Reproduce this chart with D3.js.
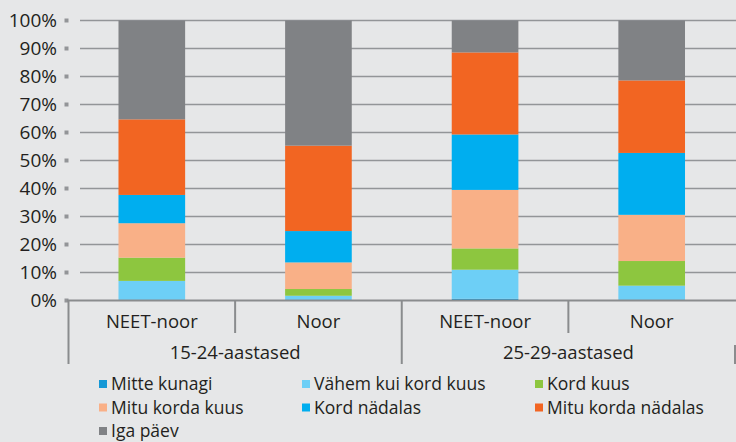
<!DOCTYPE html>
<html>
<head>
<meta charset="utf-8">
<script src="https://cdn.jsdelivr.net/npm/d3@7"></script>
<style>
  html, body { margin: 0; padding: 0; background: #e6e7e8; }
  svg { display: block; font-family: "Open Sans", "Noto Sans", sans-serif; }
</style>
</head>
<body>
<svg id="chart" width="736" height="442"></svg>
<script>
// ---- data ----
const bars = ["NEET-noor|15-24", "Noor|15-24", "NEET-noor|25-29", "Noor|25-29"];
const barLabels = ["NEET-noor", "Noor", "NEET-noor", "Noor"];
const groups = ["15-24-aastased", "25-29-aastased"];
const seriesNames = ["Mitte kunagi", "Vähem kui kord kuus", "Kord kuus", "Mitu korda kuus", "Kord nädalas", "Mitu korda nädalas", "Iga päev"];
const mitteKunagi      = [0.0, 0.0, 0.6, 0.0];
const vahemKuiKordKuus = [7.0, 1.7, 10.4, 5.3];
const kordKuus         = [8.3, 2.4, 7.6, 8.8];
const mituKordaKuus    = [12.3, 9.5, 20.9, 16.5];
const kordNadalas      = [10.1, 11.2, 19.8, 22.1];
const mituKordaNadalas = [27.0, 30.5, 29.3, 25.9];
const igaPaev          = [35.3, 44.7, 11.4, 21.4];
const yTicks = [0, 10, 20, 30, 40, 50, 60, 70, 80, 90, 100];

const colors = ["#1598d6", "#6dcff6", "#8dc63f", "#f9b087", "#00aeef", "#f26522", "#808285"];
const seriesValues = [mitteKunagi, vahemKuiKordKuus, kordKuus, mituKordaKuus, kordNadalas, mituKordaNadalas, igaPaev];

const table = bars.map((b, i) => {
  const row = { bar: b };
  seriesNames.forEach((s, j) => row[s] = seriesValues[j][i]);
  return row;
});

const svg = d3.select("#chart");
const textColor = "#231f20";
const fontSize = 18.5;

const x = d3.scaleBand().domain(bars).range([68.5, 735]).padding(0);
const y = d3.scaleLinear().domain([0, 100]).range([300.5, 20.5]);

// gridlines
svg.append("g").selectAll("line").data(yTicks.filter(t => t > 0)).join("line")
  .attr("x1", 80).attr("x2", 736)
  .attr("y1", d => y(d)).attr("y2", d => y(d))
  .attr("stroke", "#939598").attr("stroke-width", 1.3);

// y tick squares & labels
const yg = svg.append("g");
yg.selectAll("rect").data(yTicks).join("rect")
  .attr("x", 64.5).attr("y", d => y(d) - 2).attr("width", 4).attr("height", 4)
  .attr("fill", "#939598");
yg.selectAll("text").data(yTicks).join("text")
  .attr("x", 57).attr("y", d => y(d)).attr("dy", "0.35em")
  .attr("text-anchor", "end").attr("font-size", 19).attr("fill", textColor)
  .text(d => d + "%");

// stacked bars
const stack = d3.stack().keys(seriesNames)(table);
const bw = x.bandwidth() * 0.4;
svg.append("g").selectAll("g").data(stack).join("g")
  .attr("fill", (d, i) => colors[i])
  .selectAll("rect").data(d => d).join("rect")
  .attr("x", d => x(d.data.bar) + (x.bandwidth() - bw) / 2)
  .attr("width", bw)
  .attr("y", d => y(d[1]))
  .attr("height", d => Math.max(0, y(d[0]) - y(d[1])));

// category axis
const axisColor = "#8a8c8e";
const ax = svg.append("g");
ax.append("line").attr("x1", 67).attr("x2", 736).attr("y1", 300.5).attr("y2", 300.5)
  .attr("stroke", axisColor).attr("stroke-width", 2);
// sub separators (between bars within a group)
[1, 3].forEach(i => {
  const xs = x(bars[i]);
  ax.append("line").attr("x1", xs).attr("x2", xs).attr("y1", 300).attr("y2", 333)
    .attr("stroke", axisColor).attr("stroke-width", 2);
});
// group separators
[0, 2].forEach(i => {
  const xs = x(bars[i]);
  ax.append("line").attr("x1", xs).attr("x2", xs).attr("y1", 300).attr("y2", 364)
    .attr("stroke", axisColor).attr("stroke-width", 2);
});
ax.append("line").attr("x1", 735).attr("x2", 735).attr("y1", 345).attr("y2", 364)
  .attr("stroke", axisColor).attr("stroke-width", 2);

ax.selectAll("text.sub").data(bars).join("text").attr("class", "sub")
  .attr("x", d => x(d) + x.bandwidth() / 2).attr("y", 322).attr("dy", "0.35em")
  .attr("text-anchor", "middle").attr("font-size", fontSize).attr("fill", textColor)
  .text((d, i) => barLabels[i]);
ax.selectAll("text.grp").data(groups).join("text").attr("class", "grp")
  .attr("x", (d, i) => x(bars[i * 2]) + x.bandwidth()).attr("y", 353).attr("dy", "0.35em")
  .attr("text-anchor", "middle").attr("font-size", fontSize).attr("fill", textColor)
  .text(d => d);

// legend
const colX = [99, 302, 535];
const rowY = [384, 407.5, 431];
const lg = svg.append("g").selectAll("g").data(seriesNames).join("g")
  .attr("transform", (d, i) => `translate(${colX[i % 3]},${rowY[Math.floor(i / 3)]})`);
lg.append("rect").attr("x", 0).attr("y", -4).attr("width", 8).attr("height", 8)
  .attr("fill", (d, i) => colors[i]);
lg.append("text").attr("x", 12).attr("y", 0).attr("dy", "0.35em")
  .attr("font-size", 17.5).attr("textLength", null).attr("fill", textColor).text(d => d);
</script>
</body>
</html>
